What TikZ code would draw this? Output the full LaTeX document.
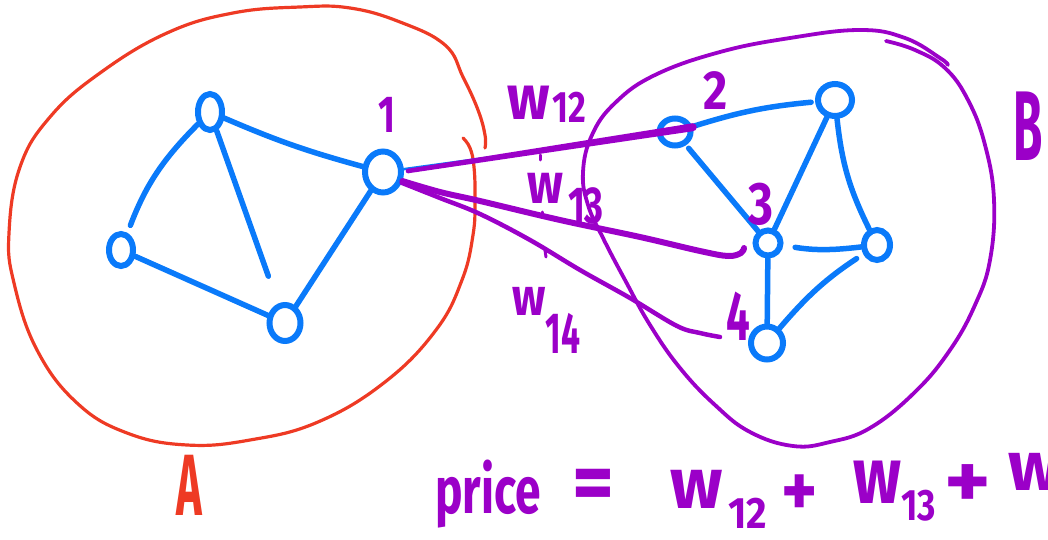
\documentclass[tikz,border=0pt]{standalone}
\usepackage{fontspec}
\usepackage{graphicx}
\setmainfont{Fira Sans}
\usetikzlibrary{shapes.geometric,calc}
\definecolor{pblue}{RGB}{10,122,250}
\definecolor{ppurple}{RGB}{155,0,200}
\definecolor{pred}{RGB}{238,58,36}
\newcommand\hw[3]{\scalebox{#1}[1]{\fontsize{#2}{#2}\selectfont\bfseries #3}}
\tikzset{
  vert/.style={draw=pblue, line width=6pt, ellipse, inner sep=0pt},
  edge/.style={draw=pblue, line width=5.5pt, line cap=round},
  cut/.style={draw=ppurple, line cap=round, line join=round},
  hand/.style={text=ppurple, inner sep=1pt},
  redhand/.style={text=pred, inner sep=1pt},
}
\begin{document}
\begin{tikzpicture}[x=1pt,y=-1pt]
\useasboundingbox (0,0) rectangle (1048,540);

% ---- set A (red boundary)
\draw[pred, line width=3.2pt, line cap=round] plot[smooth, tension=0.7] coordinates {
 (463,138) (470,148) (474,167) (475,200) (473,235) (462,280) (436,330) (385,382)
 (318,422) (250,440) (187,445) (127,433) (77,403) (37,350) (14,283) (9,233)
 (20,167) (50,117) (100,73) (167,33) (233,13) (300,7) (350,8) (400,22) (445,45)
 (463,77) (478,110) (485,135) (485,148)};

% ---- set B (purple boundary)
\draw[ppurple, line width=3.8pt, line cap=round] plot[smooth, tension=0.7] coordinates {
 (886,41) (915,50) (945,68) (968,100) (985,145) (994,200) (990,260) (975,305)
 (950,350) (915,392) (870,428) (830,442) (793,446) (750,432) (715,405) (680,368)
 (650,325) (625,280) (603,238) (588,205) (583,172) (592,135) (615,103) (655,75)
 (720,52) (790,38) (860,30) (905,38) (940,58) (948,65)};

% ---- vertices of A
\node[vert, minimum width=36pt, minimum height=41pt] (a1) at (383,172) {};
\node[vert, minimum width=24pt, minimum height=36pt] (a2) at (210,112) {};
\node[vert, minimum width=24pt, minimum height=32pt] (a3) at (121,250) {};
\node[vert, minimum width=31pt, minimum height=36pt] (a4) at (285,323) {};

% ---- vertices of B
\node[vert, minimum width=31pt, minimum height=27pt] (b2) at (675,132) {};
\node[vert, minimum width=34pt, minimum height=32pt] (b5) at (835,100) {};
\node[vert, minimum width=25pt, minimum height=25pt] (b3) at (768,243) {};
\node[vert, minimum width=26pt, minimum height=30pt] (b6) at (877,245) {};
\node[vert, minimum width=32pt, minimum height=33pt] (b4) at (767,343) {};

% ---- edges inside A
\draw[edge] (a2) to[bend right=4] (a1);
\draw[edge, shorten >=29pt] (a2) -- (a4);
\draw[edge, shorten >=8pt] (a2) to[bend right=12] (a3);
\draw[edge] (a3) -- (a4);
\draw[edge] (a1) -- (a4);

% ---- edges inside B
\draw[edge, shorten >=4pt] (b2) to[bend left=6] (b5);
\draw[edge, shorten <=4pt] (b2) -- (b3);
\draw[edge] (b5) -- (b3);
\draw[edge] (b5) to[bend right=10] (b6);
\draw[edge, shorten <=12pt] (b3) to[bend right=8] (b6);
\draw[edge] (b3) -- (b4);
\draw[edge, shorten <=8pt] (b6) to[bend right=8] (b4);

% ---- cut edges
\draw[edge, line width=2.5pt] (a1) -- (b2);
\coordinate (w12s) at (408,171);
\coordinate (w12e) at (b2.15);
\fill[ppurple] ($(w12s)+(0,-2.3)$) -- ($(w12e)+(0,-4)$) -- ($(w12e)+(0,4)$) -- ($(w12s)+(0,2.3)$) -- cycle;
\fill[ppurple] (w12e) circle (4pt);
\fill[ppurple] (w12s) circle (2.3pt);

\draw[cut, line width=6pt] plot[smooth, tension=0.6] coordinates {
 (a1.-25) (440,192) (480,201) (560,220) (640,237) (700,251) (728,256) (741,253) (744,248)};
\draw[cut, line width=4.5pt] plot[smooth, tension=0.6] coordinates {
 (a1.-30) (440,198) (480,214) (530,240) (580,270) (630,298) (677,326) (700,333) (720,337)};

% small pen marks
\draw[cut, line width=3pt] (540,155) -- (540,160);
\draw[cut, line width=3pt] (542,212) -- (542,217);
\draw[cut, line width=3pt] (545,250) -- (546,257);

% ---- labels
\node[hand] (l1) at (387,115) {\hw{0.7}{52pt}{1}};
\node[hand] (l2) at (716,91) {\hw{0.85}{55pt}{2}};
\node[hand] (l3) at (761,204) {\hw{0.8}{60pt}{3}};
\node[hand] (l4) at (738,316) {\hw{0.6}{70pt}{4}};
\node[redhand] (lA) at (189,485) {\hw{0.5}{87pt}{A}};
\node[hand] (lB) at (1028,126) {\hw{0.48}{99pt}{B}};

\node[hand, anchor=base west] (w12) at (506,120)
  {\hw{0.9}{63pt}{w}\hspace{3pt}\raisebox{-3pt}{\hw{0.78}{44pt}{12}}};
\node[hand, anchor=base west] (w13) at (526,203)
  {\hw{0.84}{57pt}{w}\hspace{5pt}\raisebox{-20pt}{\hw{0.7}{52pt}{13}}};
\node[hand, anchor=base west] (w14) at (511,315)
  {\hw{0.84}{53pt}{w}\raisebox{-38pt}{\hw{0.58}{58pt}{14}}};

% ---- price formula
\node[hand, anchor=base west] (price) at (434,513) {\hw{0.70}{66pt}{price}};
\node[hand] (eq) at (593,490) {\hw{0.95}{85pt}{=}};
\node[hand, anchor=base west] (f12) at (669,508)
  {\hw{0.97}{72pt}{w}\hspace{6pt}\raisebox{-20pt}{\hw{0.9}{44pt}{12}}};
\node[hand] (p1) at (800,496) {\hw{0.9}{76pt}{+}};
\node[hand, anchor=base west] (f13) at (852,503)
  {\hw{0.8}{80pt}{w}\raisebox{-17pt}{\hw{0.8}{44pt}{13}}};
\node[hand] (p2) at (968,487) {\hw{1.1}{80pt}{+}};
\node[hand, anchor=base west] (f14) at (1007,490) {\hw{1}{70pt}{w}};
\end{tikzpicture}
\end{document}
